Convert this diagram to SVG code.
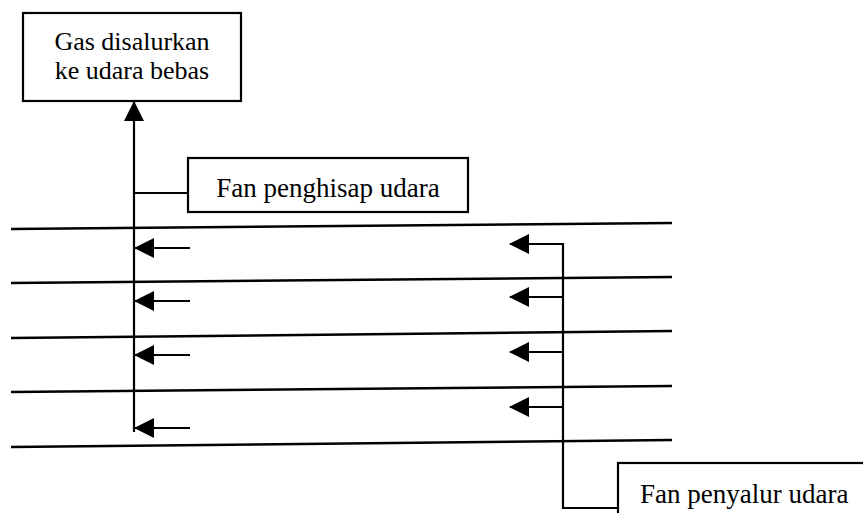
<svg xmlns="http://www.w3.org/2000/svg" width="863" height="513" viewBox="0 0 863 513">
  <style>
    .box { fill: #fff; stroke: #000; stroke-width: 2.2; }
    .txt { font-family: "Liberation Serif", "Times New Roman", serif; font-size: 27px; fill: #000; }
    .ln { fill: none; stroke: #000; stroke-width: 2.2; }
    .duct { fill: none; stroke: #000; stroke-width: 2.5; }
  </style>
  <defs>
    <marker id="ah" viewBox="0 0 20 20" refX="19" refY="10" markerWidth="20" markerHeight="20" markerUnits="userSpaceOnUse" orient="auto">
      <path d="M0,0 L20,10 L0,20 Z" fill="#000"/>
    </marker>
  </defs>
  <rect width="863" height="513" fill="#fff"/>

  <g id="ducts">
    <line class="duct" x1="11" y1="229" x2="672" y2="223"/>
    <line class="duct" x1="11" y1="283" x2="672" y2="277"/>
    <line class="duct" x1="11" y1="338" x2="672" y2="331"/>
    <line class="duct" x1="11" y1="392" x2="672" y2="386"/>
    <line class="duct" x1="11" y1="447" x2="672" y2="440"/>
  </g>

  <g id="connectors">
    <line class="ln" x1="134" y1="432" x2="134" y2="102" marker-end="url(#ah)"/>
    <line class="ln" x1="134" y1="193" x2="188" y2="193"/>
    <line class="ln" x1="190" y1="248" x2="135" y2="248" marker-end="url(#ah)"/>
    <line class="ln" x1="190" y1="301" x2="135" y2="301" marker-end="url(#ah)"/>
    <line class="ln" x1="190" y1="355" x2="135" y2="355" marker-end="url(#ah)"/>
    <line class="ln" x1="190" y1="428" x2="135" y2="428" marker-end="url(#ah)"/>
    <path class="ln" d="M618,508 H563 V244 H510" marker-end="url(#ah)"/>
    <line class="ln" x1="563" y1="297" x2="510" y2="297" marker-end="url(#ah)"/>
    <line class="ln" x1="563" y1="352" x2="510" y2="352" marker-end="url(#ah)"/>
    <line class="ln" x1="563" y1="407" x2="510" y2="407" marker-end="url(#ah)"/>
  </g>

  <g id="gas-out">
    <rect class="box" x="23" y="13" width="218" height="88"/>
    <text class="txt" x="132" y="50" text-anchor="middle" style="font-size:26px">Gas disalurkan</text>
    <text class="txt" x="132" y="79" text-anchor="middle" style="font-size:26px">ke udara bebas</text>
  </g>

  <g id="fan-penghisap">
    <rect class="box" x="188" y="158" width="280" height="54"/>
    <text class="txt" x="328" y="197" text-anchor="middle">Fan penghisap udara</text>
  </g>

  <g id="fan-penyalur">
    <rect class="box" x="618" y="463" width="260" height="70"/>
    <text class="txt" x="640" y="503">Fan penyalur udara</text>
  </g>
</svg>
